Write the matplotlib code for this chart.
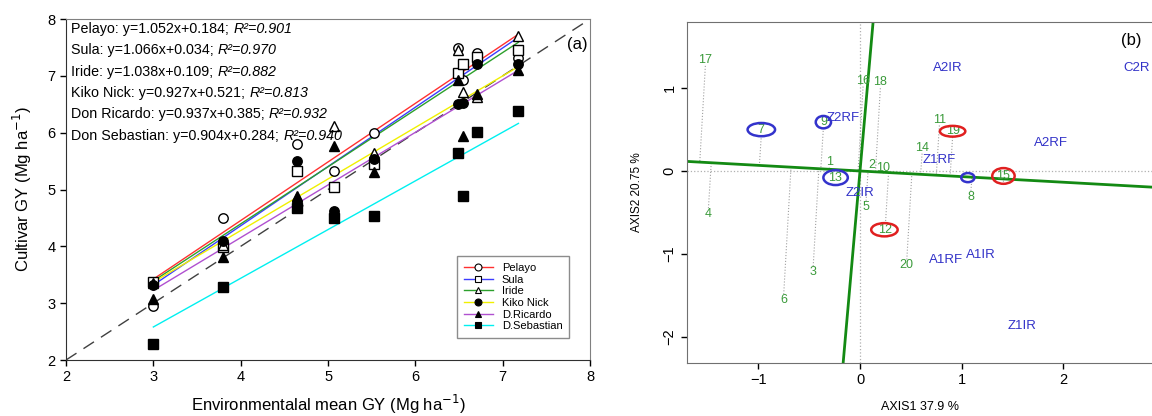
import numpy as np
import matplotlib
matplotlib.use('Agg')
import matplotlib.pyplot as plt
from matplotlib.patches import Ellipse
from matplotlib.lines import Line2D

plt.rcParams['font.family'] = ['Liberation Sans', 'DejaVu Sans']

# ---- panel (a): cultivar GY vs environmental mean GY ----
env_mean = [3.0, 3.8, 4.65, 5.07, 5.53, 6.49, 6.55, 6.71, 7.18]
cultivars = ['Pelayo', 'Sula', 'Iride', 'Kiko Nick', 'D.Ricardo', 'D.Sebastian']
pelayo = [2.95, 4.49, 5.80, 5.32, 6.00, 7.49, 6.93, 7.40, 7.32]
sula = [3.37, 3.98, 5.33, 5.05, 5.45, 7.05, 7.21, 7.33, 7.45]
iride = [3.35, 4.02, 4.88, 6.12, 5.65, 7.45, 6.72, 6.62, 7.70]
kiko = [3.32, 4.10, 5.50, 4.63, 5.54, 6.50, 6.53, 7.20, 7.20]
ricardo = [3.07, 3.82, 4.86, 5.77, 5.30, 6.93, 5.95, 6.68, 7.10]
sebastian = [2.28, 3.28, 4.67, 4.49, 4.53, 5.65, 4.88, 6.02, 6.38]
# regression lines as drawn in the figure
fit_slope = [1.031, 1.043, 1.005, 0.907, 0.926, 0.857]
fit_icpt = [0.33, 0.19, 0.375, 0.65, 0.45, 0.01]
# equations printed in the panel
eq_names = ['Pelayo', 'Sula', 'Iride', 'Kiko Nick', 'Don Ricardo', 'Don Sebastian']
eq_text = ['y=1.052x+0.184', 'y=1.066x+0.034', 'y=1.038x+0.109',
           'y=0.927x+0.521', 'y=0.937x+0.385', 'y=0.904x+0.284']
eq_r2 = ['0.901', '0.970', '0.882', '0.813', '0.932', '0.940']

# ---- panel (b): biplot ----
geno_labels = [str(i) for i in range(1, 21)]
geno_x = [-0.30, 0.12, -0.46, -1.49, 0.06, -0.75, -0.97, 1.09, -0.36, 0.23,
          0.78, 0.25, -0.25, 0.61, 1.41, 0.03, -1.52, 0.20, 0.91, 0.46]
geno_y = [0.11, 0.07, -1.22, -0.52, -0.43, -1.56, 0.50, -0.31, 0.59, 0.04,
          0.62, -0.71, -0.08, 0.28, -0.06, 1.09, 1.34, 1.07, 0.48, -1.14]
env_labels = ['Z2RF', 'Z2IR', 'A2IR', 'C2R', 'Z1RF', 'A2RF', 'A1RF', 'A1IR', 'Z1IR']
env_x = [-0.17, 0.00, 0.86, 2.72, 0.78, 1.88, 0.85, 1.19, 1.59]
env_y = [0.64, -0.27, 1.25, 1.25, 0.13, 0.34, -1.07, -1.02, -1.87]
axis_slope_h = -0.068   # near-horizontal green axis
axis_slope_v = 14.0     # near-vertical green axis
ring_x = [-0.97, -0.36, -0.24, 1.06, 0.24, 0.91, 1.41]
ring_y = [0.50, 0.59, -0.08, -0.08, -0.71, 0.48, -0.06]
ring_w = [0.27, 0.15, 0.24, 0.13, 0.26, 0.25, 0.22]
ring_h = [0.16, 0.15, 0.18, 0.11, 0.16, 0.13, 0.19]
ring_col = ['#3333cc', '#3333cc', '#3333cc', '#3333cc', '#e02020', '#e02020', '#e02020']

fig = plt.figure(figsize=(11.52, 4.16), dpi=100)
axa = fig.add_axes([0.0573, 0.1346, 0.4549, 0.8197])
axb = fig.add_axes([0.5964, 0.1274, 0.4036, 0.8197])

series = [pelayo, sula, iride, kiko, ricardo, sebastian]
line_cols = ['#ff3030', '#3c3cff', '#2ca02c', '#f0f000', '#b050d0', '#00f0f0']
markers = ['o', 's', '^', 'o', '^', 's']
faces = ['white', 'white', 'white', 'black', 'black', 'black']

axa.plot([2, 8], [2, 8], color='#404040', lw=1, dashes=(9, 6), zorder=1)
xs = np.array([min(env_mean), max(env_mean)])
for k in range(6):
    axa.plot(xs, fit_slope[k] * xs + fit_icpt[k], color=line_cols[k], lw=1, zorder=2)
for k in range(6):
    axa.plot(env_mean, series[k], ls='none', marker=markers[k], ms=6.8,
             mfc=faces[k], mec='black', mew=1, zorder=3)

axa.set_xlim(2, 8)
axa.set_ylim(2, 8)
axa.set_xticks(range(2, 9))
axa.set_yticks(range(2, 9))
axa.tick_params(direction='out', length=4, labelsize=10.5, width=1)
for s in ['top', 'right']:
    axa.spines[s].set_color('#808080')
for s in ['left', 'bottom']:
    axa.spines[s].set_color('#303030')
axa.set_xlabel('Environmentalal mean GY (Mg ha$^{-1}$)', fontsize=12, va='center')
axa.xaxis.set_label_coords(0.5, -0.13)
axa.set_ylabel('Cultivar GY (Mg ha$^{-1}$)', fontsize=12, labelpad=10)

for k in range(6):
    t1 = axa.text(0.01, 0.972 - k * 0.0630, f'{eq_names[k]}: {eq_text[k]}; ',
                  transform=axa.transAxes, fontsize=10.3, va='center', ha='left')
    axa.annotate(f'R\u00b2={eq_r2[k]}', xy=(1, 0.5), xycoords=t1, fontsize=10.3,
                 style='italic', va='center', ha='left')
axa.text(0.975, 0.924, '(a)', transform=axa.transAxes, fontsize=12,
         ha='center', va='center')

handles = [Line2D([], [], color=line_cols[k], lw=1, marker=markers[k], ms=5,
                  mfc=faces[k], mec='black', mew=0.8) for k in range(6)]
leg = axa.legend(handles, cultivars, loc='lower right', bbox_to_anchor=(0.96, 0.065),
                 fontsize=8, frameon=True, fancybox=False, edgecolor='#707070',
                 handlelength=2.6, labelspacing=0.15, borderpad=0.6,
                 handletextpad=0.8, borderaxespad=0)
leg.get_frame().set_linewidth(1)

# ---- panel (b) drawing ----
axb.set_xlim(-1.70, 2.87)
axb.set_ylim(-2.32, 1.80)
axb.axhline(0, color='#b0b0b0', lw=0.9, ls=':', zorder=1)
axb.axvline(0, color='#b0b0b0', lw=0.9, ls=':', zorder=1)
axb.axline((0, 0), slope=axis_slope_h, color='#138a13', lw=2, zorder=2)
axb.axline((0, 0), slope=axis_slope_v, color='#138a13', lw=2, zorder=2)

# dotted projections of genotypes onto the near-horizontal axis
ky = 82.7 / 102.0
d = np.array([1.0, axis_slope_h * ky])
d = d / np.linalg.norm(d)
for gx, gy in zip(geno_x, geno_y):
    p = np.array([gx, gy * ky])
    foot = d * p.dot(d)
    off = 0.07 if gy > axis_slope_h * gx else -0.07
    axb.plot([gx, foot[0]], [gy - off, foot[1] / ky], color='#a0a0a0',
             lw=0.8, ls=':', zorder=1)

for lab, gx, gy in zip(geno_labels, geno_x, geno_y):
    axb.text(gx, gy, lab, color='#3a9a3a', fontsize=9, ha='center', va='center', zorder=4)
for lab, ex, ey in zip(env_labels, env_x, env_y):
    axb.text(ex, ey, lab, color='#3232c8', fontsize=9.5, ha='center', va='center', zorder=4)
for rx, ry, rw, rh, rc in zip(ring_x, ring_y, ring_w, ring_h, ring_col):
    axb.add_patch(Ellipse((rx, ry), rw, rh, fill=False, ec=rc, lw=1.8, zorder=5))

axb.set_xticks([-1, 0, 1, 2])
axb.set_yticks([-2, -1, 0, 1])
axb.tick_params(direction='out', length=4, labelsize=10.5, width=1)
for lbl in axb.get_yticklabels():
    lbl.set_rotation(90)
    lbl.set_va('center')
for s in ['top', 'left', 'bottom']:
    axb.spines[s].set_color('#707070')
axb.spines['right'].set_visible(False)
axb.set_xlabel('AXIS1 37.9 %', fontsize=9, va='center')
axb.xaxis.set_label_coords(0.5, -0.13)
axb.set_ylabel('AXIS2 20.75 %', fontsize=8.5, labelpad=14)
axb.text(0.955, 0.947, '(b)', transform=axb.transAxes, fontsize=12,
         ha='center', va='center')

fig.savefig('out.png', dpi=100)
